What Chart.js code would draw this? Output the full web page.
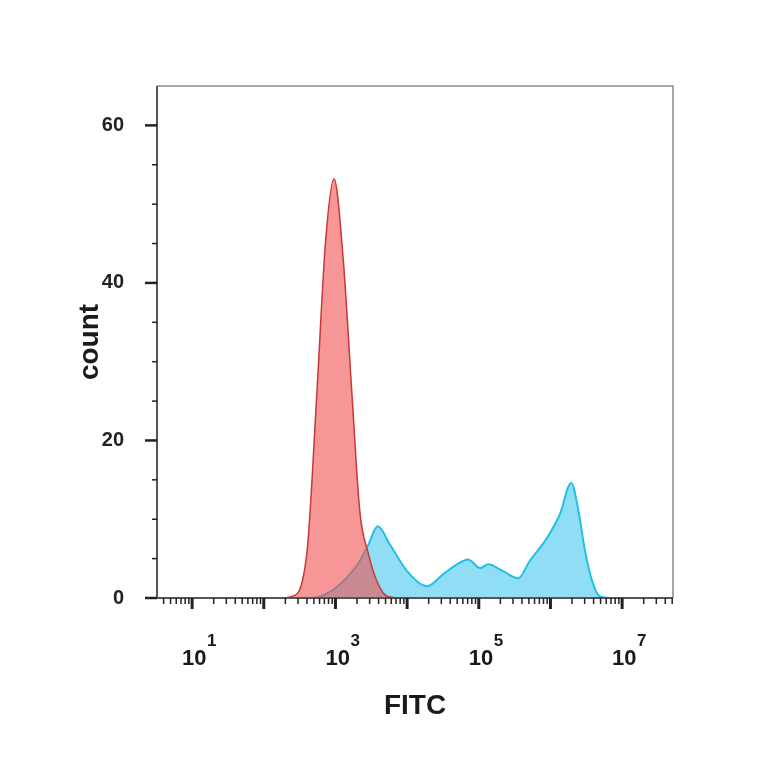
<!DOCTYPE html>
<html><head><meta charset="utf-8">
<script src="https://cdn.jsdelivr.net/npm/chart.js@4/dist/chart.umd.min.js"></script>
<style>html,body{margin:0;padding:0;background:#fff}#w{width:764px;height:764px}</style>
</head><body><div id="w"><canvas id="c"></canvas></div>
<script>
// log10(FITC) and counts
const redX = [0.51, 2.2, 2.39, 2.60, 2.74, 2.86, 2.98, 3.11, 3.23, 3.34, 3.46, 3.58, 3.73, 4.0, 7.71];
const redY = [0, 0, 0.2, 5.6, 25.9, 45, 53.2, 42.8, 25.9, 11, 5.6, 2.1, 0.2, 0, 0];
const cyanX = [0.51, 2.6, 2.79, 3.06, 3.34, 3.46, 3.59, 3.76, 4.0, 4.28, 4.5, 4.7, 4.85, 5.02, 5.13, 5.34, 5.55, 5.71, 5.95, 6.13, 6.29, 6.39, 6.48, 6.58, 6.69, 6.9, 7.71];
const cyanY = [0, 0, 0.2, 1.7, 4.7, 6.8, 9.1, 6.8, 3.4, 1.5, 3.0, 4.3, 4.9, 3.8, 4.3, 3.4, 2.5, 4.7, 7.6, 10.6, 14.6, 11.1, 6.1, 2.2, 0.2, 0, 0];
const xDecades = [0,1,2,3,4,5,6,7];
const xLabelExp = [1,3,5,7];
const yTicks = [0,20,40,60];

const pts = (xs, ys) => xs.map((x,i)=>({x, y: ys[i]}));

const deco = {
  id:'deco',
  afterDraw(ch){
    const c = ch.ctx, a = ch.chartArea, xs = ch.scales.x, ys = ch.scales.y;
    c.save();
    c.strokeStyle = '#8a8a8a'; c.lineWidth = 1.5;
    c.beginPath(); c.moveTo(a.left, a.top); c.lineTo(a.right, a.top); c.lineTo(a.right, a.bottom); c.stroke();
    c.strokeStyle = '#555'; c.lineWidth = 2;
    c.beginPath(); c.moveTo(a.left, a.top); c.lineTo(a.left, a.bottom); c.lineTo(a.right, a.bottom); c.stroke();
    c.strokeStyle = '#222';
    for (let v = 0; v <= 60; v += 5) {
      const y = ys.getPixelForValue(v), major = v % 20 === 0;
      c.lineWidth = major ? 2.5 : 1.5;
      c.beginPath(); c.moveTo(a.left, y); c.lineTo(a.left - (major ? 12 : 5), y); c.stroke();
    }
    for (const d of xDecades) {
      for (let k = 1; k <= 9; k++) {
        const v = d + Math.log10(k);
        if (v < xs.min || v > xs.max) continue;
        const x = xs.getPixelForValue(v);
        c.lineWidth = k === 1 ? 3 : 1.5;
        c.beginPath(); c.moveTo(x, a.bottom); c.lineTo(x, a.bottom + (k === 1 ? 11 : 6)); c.stroke();
      }
    }
    c.fillStyle = '#1a1a1a'; c.textBaseline = 'alphabetic'; c.textAlign = 'left';
    for (const e of xLabelExp) {
      const x = xs.getPixelForValue(e);
      c.font = 'bold 22px "Liberation Sans", Arial, sans-serif';
      c.fillText('10', x - 10, 665);
      c.font = 'bold 17px "Liberation Sans", Arial, sans-serif';
      c.fillText(String(e), x + 15, 646);
    }
    c.font = 'bold 28px "Liberation Sans", Arial, sans-serif';
    c.textAlign = 'center';
    c.fillText('FITC', 415, 714);
    c.translate(98, 342); c.rotate(-Math.PI/2);
    c.fillText('count', 0, 0);
    c.restore();
  }
};

new Chart(document.getElementById('c'), {
  type: 'line',
  data: { datasets: [
    { data: pts(redX, redY), borderColor: '#c83838', backgroundColor: 'rgba(240,80,80,0.6)', fill: 'origin', borderWidth: 1.5, pointRadius: 0, tension: 0.4, cubicInterpolationMode: 'monotone' },
    { data: pts(cyanX, cyanY), borderColor: '#22c0e8', backgroundColor: 'rgba(70,200,240,0.6)', fill: 'origin', borderWidth: 2, pointRadius: 0, tension: 0.4, cubicInterpolationMode: 'monotone' }
  ]},
  options: {
    responsive: true, maintainAspectRatio: false, animation: false,
    layout: { padding: { left: 0, top: 86, right: 91, bottom: 0 } },
    plugins: { legend: { display: false }, tooltip: { enabled: false } },
    scales: {
      x: { type: 'linear', min: 0.51, max: 7.71, grid: { display: false }, border: { display: false }, ticks: { display: false },
           afterFit(s){ s.height = 166; } },
      y: { min: 0, max: 65, grid: { display: false }, border: { display: false },
           ticks: { stepSize: 20, padding: 25, color: '#222', font: { family: '"Liberation Sans", Arial, sans-serif', size: 20, weight: 'bold' },
                    callback: v => yTicks.includes(v) ? String(v) : '' },
           afterFit(s){ s.width = 157; } }
    }
  },
  plugins: [deco]
});
</script></body></html>
